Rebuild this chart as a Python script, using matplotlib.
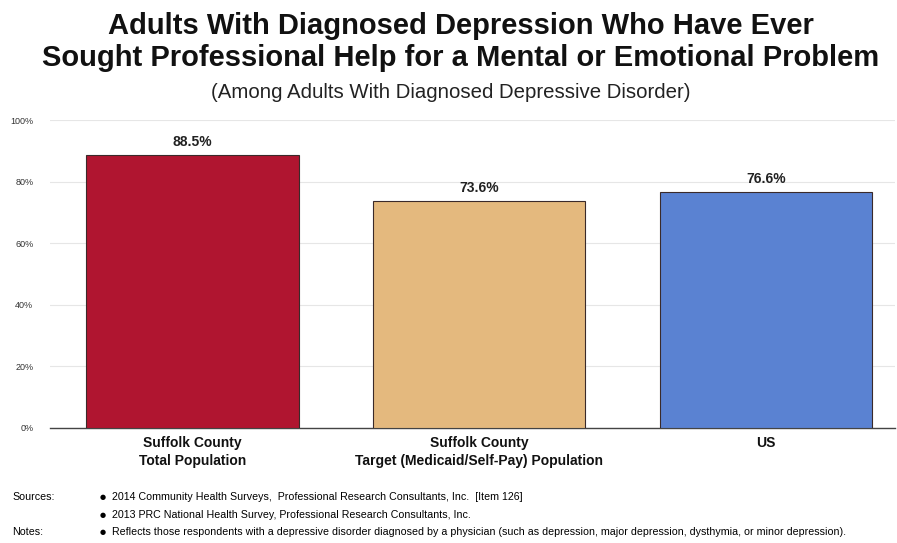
import matplotlib
matplotlib.use("Agg")
import matplotlib.pyplot as plt
from matplotlib.ticker import FuncFormatter

plt.rcParams['font.family'] = ['Liberation Sans', 'DejaVu Sans']

# --- data ---
categories = ["Suffolk County\nTotal Population",
              "Suffolk County\nTarget (Medicaid/Self-Pay) Population",
              "US"]
values = [88.5, 73.6, 76.6]
colors = ["#B01530", "#E4B97E", "#5A82D2"]
yticks = [0, 20, 40, 60, 80, 100]

title = ("Adults With Diagnosed Depression Who Have Ever\n"
         "Sought Professional Help for a Mental or Emotional Problem")
subtitle = "(Among Adults With Diagnosed Depressive Disorder)"
sources = ["2014 Community Health Surveys,  Professional Research Consultants, Inc.  [Item 126]",
           "2013 PRC National Health Survey, Professional Research Consultants, Inc."]
notes = ["Reflects those respondents with a depressive disorder diagnosed by a physician "
         "(such as depression, major depression, dysthymia, or minor depression)."]

fig = plt.figure(figsize=(8.97, 5.43), dpi=100)
ax = fig.add_axes([0.0557, 0.2118, 0.9423, 0.5672])

x = range(len(categories))
bars = ax.bar(x, values, width=0.74, color=colors, edgecolor="#3a2a2a", linewidth=0.8, zorder=3)

for b, v in zip(bars, values):
    ax.text(b.get_x() + b.get_width() / 2, v + 2.0, f"{v:.1f}%",
            ha="center", va="bottom", fontsize=10, fontweight="bold", color="#222222")

ax.set_ylim(0, 100)
ax.set_xlim(-0.497, 2.45)
ax.set_yticks(yticks)
ax.yaxis.set_major_formatter(FuncFormatter(lambda v, _: f"{v:.0f}%"))
ax.tick_params(axis="y", length=0, labelsize=6.5, colors="#333333", pad=12)
ax.tick_params(axis="x", length=0, pad=6)
ax.set_xticks(list(x))
ax.set_xticklabels(categories, fontsize=10, fontweight="bold", color="#111111", linespacing=1.3)
ax.grid(axis="y", color="#e6e6e6", linewidth=0.8, zorder=0)
for s in ["top", "right", "left"]:
    ax.spines[s].set_visible(False)
ax.spines["bottom"].set_color("#444444")
ax.spines["bottom"].set_linewidth(1.0)

fig.text(0.514, 0.978, title, ha="center", va="top", fontsize=21, fontweight="bold",
         color="#111111", linespacing=1.2)
fig.text(0.503, 1 - 92 / 543, subtitle, ha="center", va="center", fontsize=14.7, color="#222222")

# footnotes
foot = ['Liberation Sans Narrow', 'Liberation Sans', 'DejaVu Sans']
fs = 7.7
fig.text(12 / 897, 1 - 497 / 543, "Sources:", fontsize=fs, family=foot, va="center")
fig.text(12 / 897, 1 - 532 / 543, "Notes:", fontsize=fs, family=foot, va="center")
for i, line in enumerate(sources + notes):
    y = 1 - (497 + i * 17.5) / 543
    fig.text(100 / 897, y, "\u25CF", fontsize=5, va="center", family="DejaVu Sans")
    fig.text(112 / 897, y, line, fontsize=fs, family=foot, va="center")

fig.savefig("out.png", dpi=100)
